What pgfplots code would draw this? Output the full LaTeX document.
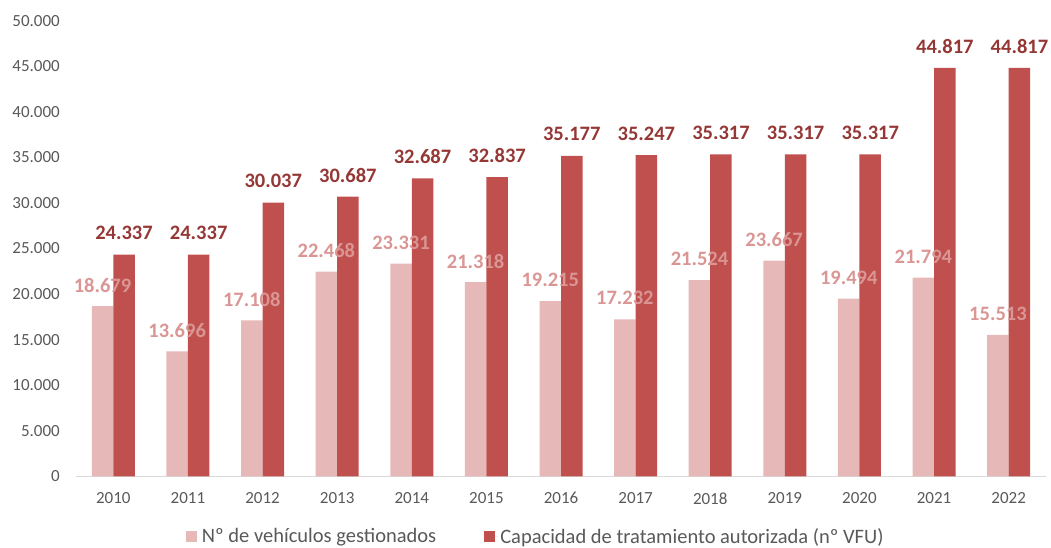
\documentclass[border=0pt]{standalone}
\usepackage{fontspec}
\setmainfont{Carlito}
\usepackage{pgfplots}
\pgfplotsset{compat=1.18}
\definecolor{lightbar}{HTML}{E6B9B8}
\definecolor{darkbar}{HTML}{C0504D}
\definecolor{lightlab}{HTML}{DA9694}
\definecolor{darklab}{HTML}{953735}
\definecolor{ticklab}{HTML}{595959}
\definecolor{axisline}{HTML}{D9D9D9}
\begin{document}
\begin{tikzpicture}
\begin{axis}[
  at={(0pt,0pt)}, anchor=south west,
  scale only axis, width=970pt, height=455.6pt,
  ybar=0pt, bar width=21.5pt,
  xmin=-0.5, xmax=12.5, ymin=0, ymax=50000,
  xtick={0,...,12},
  xticklabels={2010,2011,2012,2013,2014,2015,2016,2017,2018,2019,2020,2021,2022},
  ytick={0,5000,...,50000},
  scaled y ticks=false,
  axis x line*=bottom, axis y line*=left,
  y axis line style={draw=none},
  x axis line style={draw=axisline, line width=1pt},
  major tick length=0pt, tick style={draw=none},
  /pgf/number format/assume math mode=true,
  /pgf/number format/.cd, fixed, precision=0, 1000 sep={.},
  /pgfplots/.cd,
  tick label style={font=\fontsize{17}{20}\selectfont, text=ticklab},
  xticklabel style={anchor=center, yshift=-22pt},
  yticklabel style={anchor=east, inner sep=0pt, xshift=-16pt},
  legend style={draw=none, at={(0.474,0)}, anchor=center, yshift=-60pt,
    font=\fontsize{20.5}{24}\selectfont, text=ticklab,
    /tikz/every even column/.append style={column sep=46pt}},
  legend columns=2,
  legend image code/.code={\fill[#1] (0pt,-5.5pt) rectangle (11pt,5.5pt); \path (0pt,0pt) -- (14pt,0pt);},
  nodes near coords,
]
\addplot[fill=lightbar, draw=none,
  nodes near coords style={font=\fontsize{20.5}{24}\selectfont\bfseries, text=lightlab, anchor=center, yshift=21pt}]
  coordinates {(0,18679) (1,13696) (2,17108) (3,22468) (4,23331) (5,21318) (6,19215) (7,17232) (8,21524) (9,23667) (10,19494) (11,21794) (12,15513)};
\addlegendentry{Nº de vehículos gestionados}
\addplot[fill=darkbar, draw=none,
  nodes near coords style={font=\fontsize{20.5}{24}\selectfont\bfseries, text=darklab, anchor=center, yshift=21.5pt}]
  coordinates {(0,24337) (1,24337) (2,30037) (3,30687) (4,32687) (5,32837) (6,35177) (7,35247) (8,35317) (9,35317) (10,35317) (11,44817) (12,44817)};
\addlegendentry{Capacidad de tratamiento autorizada (nº VFU)}
\end{axis}
\pgfresetboundingbox
\path[use as bounding box] (-76pt,-71.7pt) rectangle (975pt,476.3pt);
\end{tikzpicture}
\end{document}
